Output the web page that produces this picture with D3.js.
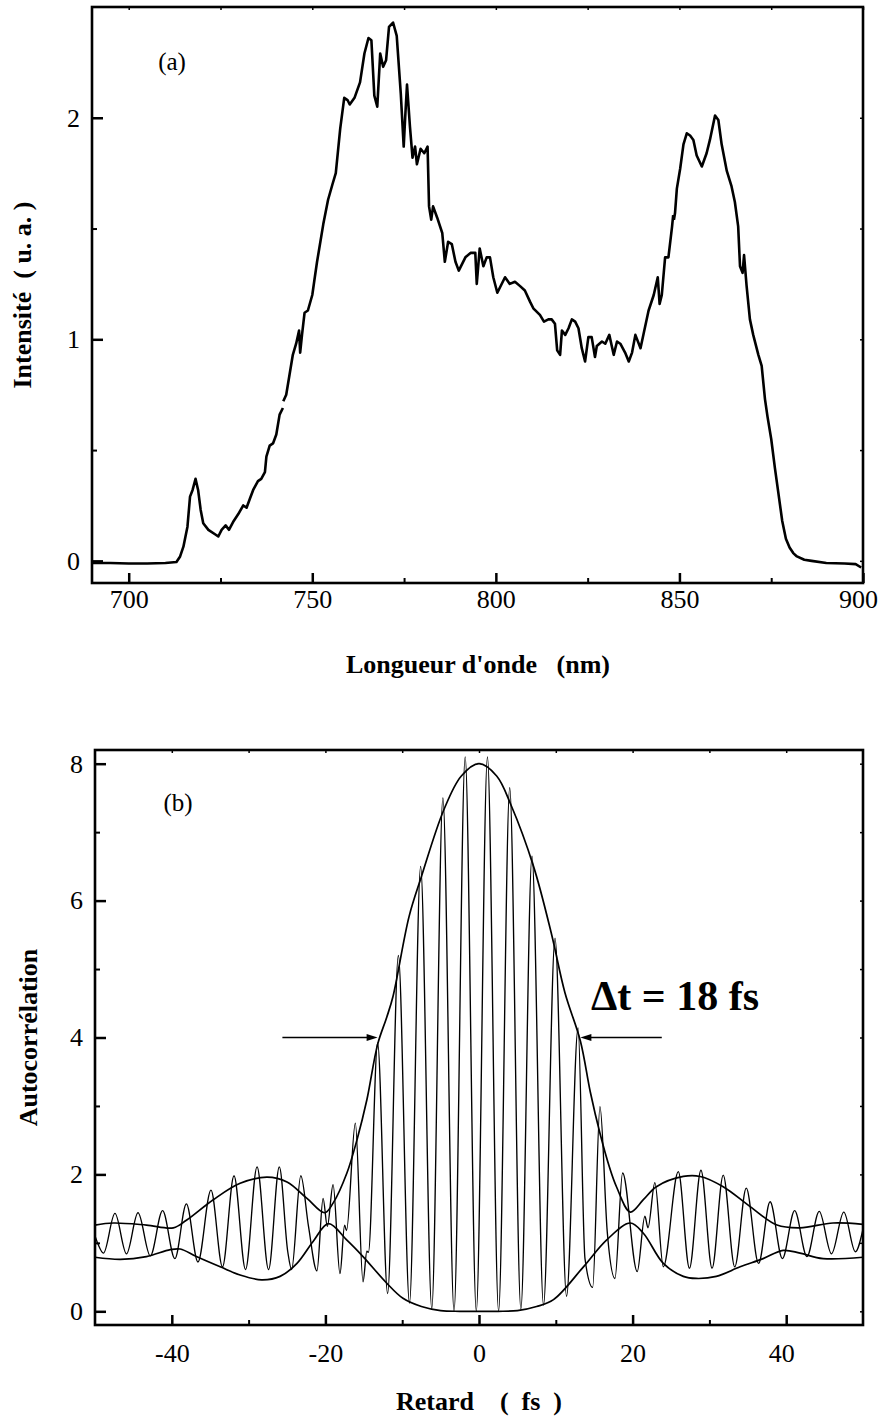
<!DOCTYPE html>
<html lang="fr">

<head>
    <meta charset="UTF-8">
    <title>Spectre et autocorrélation</title>
    <style>
        body { margin: 0; background: #fff; }
        svg { display: block; }
        text { font-family: "Liberation Serif", "Times New Roman", serif; fill: #000; }
    </style>
</head>

<body>
    <svg width="880" height="1418" id="svg"></svg>
    <script src="https://d3js.org/d3.v7.min.js"></script>
    <script>
        // (a) spectre : longueur d'onde (nm) / intensité (u. a.) ; null = trou dans le tracé
        const specWl = [690, 695, 700, 705, 710, 713, 714, 714.9, 716, 716.7, 717.4, 718.2, 718.9, 719.6, 720.3, 721.7, 723.5, 724.4, 725.3, 726.4, 727.3, 728.6, 729.8, 731.2, 732.1, 733, 733.9, 735.2, 736.1, 737.1, 737.5, 738.4, 739.3, 740.2, 741.1, 742, 742.05, 742.1, 742.9, 743.8, 744.7, 745.6, 746.4, 746.7, 747.2, 747.9, 748.8, 750, 750.6, 751.3, 752, 753, 754.3, 755.5, 756.4, 757.6, 758.7, 759.6, 760.2, 761.5, 763, 764.2, 765.3, 766.1, 766.9, 767.7, 768.5, 769.3, 770.1, 770.9, 772, 773, 774.1, 774.9, 775.3, 775.8, 776.6, 777.3, 778, 778.5, 779.5, 780.5, 781.4, 781.8, 782.4, 782.9, 784, 785.4, 786.1, 787, 788, 789, 789.9, 791.7, 793.1, 794.4, 794.8, 795.6, 796.6, 797.5, 798.4, 799.3, 800.4, 802.5, 803.8, 805.2, 806.6, 807.9, 809.3, 810.2, 812, 813.1, 814.3, 815.2, 816.1, 816.7, 817.5, 818, 818.9, 819.8, 820.7, 821.6, 822.5, 823.4, 824.3, 825.2, 826.1, 827, 827.5, 828.9, 829.8, 830.9, 832.1, 833, 833.9, 835.2, 836.2, 837.1, 838, 839.4, 840.3, 841.6, 843, 844.1, 844.6, 845.2, 846.1, 847, 848, 848.3, 848.4, 848.5, 848.8, 849.3, 850.2, 851.1, 852, 852.9, 853.8, 854.7, 856.1, 857.4, 858.3, 859.7, 860.6, 861.5, 862.9, 864.2, 865.1, 866, 866.5, 867.2, 867.6, 868.3, 869.2, 870.1, 871.5, 872.4, 873.3, 874, 875, 876, 877, 878, 879, 880, 881, 882, 884, 886, 890, 895, 898, 899.5]
        const specInt = [-0.01, -0.01, -0.012, -0.012, -0.01, -0.005, 0.02, 0.064, 0.154, 0.29, 0.32, 0.37, 0.32, 0.23, 0.17, 0.14, 0.12, 0.11, 0.14, 0.16, 0.14, 0.18, 0.21, 0.25, 0.24, 0.28, 0.32, 0.36, 0.37, 0.40, 0.47, 0.52, 0.53, 0.57, 0.66, 0.69, null, 0.72, 0.75, 0.84, 0.93, 0.98, 1.04, 0.94, 1.02, 1.12, 1.13, 1.20, 1.27, 1.35, 1.42, 1.52, 1.63, 1.70, 1.75, 1.95, 2.09, 2.08, 2.06, 2.09, 2.16, 2.29, 2.36, 2.35, 2.10, 2.05, 2.29, 2.23, 2.26, 2.41, 2.43, 2.37, 2.11, 1.87, 2.00, 2.15, 1.96, 1.82, 1.87, 1.79, 1.86, 1.84, 1.87, 1.60, 1.54, 1.60, 1.55, 1.48, 1.35, 1.44, 1.43, 1.35, 1.31, 1.37, 1.39, 1.39, 1.25, 1.41, 1.33, 1.37, 1.37, 1.28, 1.21, 1.28, 1.25, 1.26, 1.24, 1.22, 1.17, 1.14, 1.11, 1.08, 1.09, 1.09, 1.07, 0.95, 0.93, 1.04, 1.02, 1.05, 1.09, 1.08, 1.05, 0.96, 0.90, 1.01, 1.01, 0.92, 0.97, 0.99, 0.98, 1.02, 0.93, 0.99, 0.98, 0.94, 0.90, 0.94, 1.02, 0.96, 1.03, 1.13, 1.20, 1.28, 1.16, 1.20, 1.37, 1.37, 1.51, 1.56, null, 1.54, 1.57, 1.68, 1.77, 1.88, 1.93, 1.92, 1.90, 1.83, 1.78, 1.84, 1.90, 2.01, 1.99, 1.88, 1.76, 1.69, 1.62, 1.51, 1.33, 1.30, 1.38, 1.24, 1.09, 1.02, 0.93, 0.88, 0.73, 0.65, 0.55, 0.42, 0.30, 0.18, 0.10, 0.06, 0.035, 0.02, 0.005, 0, -0.01, -0.012, -0.015, -0.03]

        // (b) autocorrélation : franges (sommets et creux)
        const fringeT = [-50, -49.6, -48.9, -47.4, -45.9, -44.4, -42.8, -41.2, -39.6, -38.1, -36.6, -34.9, -33.4, -31.9, -30.4, -28.9, -27.4, -26.0, -24.9, -24.4, -23.2, -22.2, -21.1, -20.3, -19.75, -19.0, -18.1, -17.5, -17.25, -16.1, -15.1, -14.6, -14.4, -13.2, -11.9, -10.5, -9.05, -7.6, -6.15, -4.7, -3.25, -1.8, -0.35, 1.1, 2.55, 4.0, 5.45, 6.9, 8.4, 9.9, 11.4, 12.9, 13.8, 14.8, 15.75, 16.7, 17.7, 18.7, 20.6, 21.6, 22.0, 22.9, 24.0, 25.95, 27.4, 28.9, 30.35, 31.8, 33.3, 34.8, 36.4, 37.9, 39.5, 41.1, 42.7, 44.3, 45.9, 47.5, 49.0, 50]
        const fringeV = [1.10, 0.98, 0.85, 1.43, 0.84, 1.44, 0.81, 1.47, 0.77, 1.57, 0.72, 1.77, 0.65, 1.98, 0.61, 2.11, 0.61, 2.11, 0.87, 0.61, 1.98, 1.24, 0.59, 1.65, 1.24, 1.85, 0.55, 1.26, 1.18, 2.75, 0.43, 0.88, 0.86, 3.92, 0.26, 5.2, 0.12, 6.5, 0.04, 7.5, 0.0, 8.1, 0.0, 8.1, 0.0, 7.65, 0.03, 6.65, 0.09, 5.45, 0.22, 4.14, 0.77, 0.35, 2.99, 1.16, 0.48, 2.02, 0.58, 1.39, 1.22, 1.88, 0.65, 2.04, 0.63, 2.06, 0.63, 1.99, 0.65, 1.80, 0.70, 1.60, 0.77, 1.47, 0.80, 1.46, 0.84, 1.45, 0.87, 1.20]

        // enveloppes
        const envUpT = [-50, -47.6, -43.3, -39.8, -38.1, -34.6, -31.1, -27.6, -25, -22.4, -20.1, -19, -17.2, -15.9, -14.6, -13.2, -12, -11.2, -9.1, -7.5, -4.6, -2.3, 0, 2.3, 4.15, 7.1, 9.4, 11.2, 13.2, 14.5, 15.75, 17, 17.9, 19.7, 21.4, 23.1, 26.6, 28.8, 31.8, 35.3, 38.8, 41.8, 46.1, 50]
        const envUpV = [1.26, 1.29, 1.26, 1.22, 1.33, 1.63, 1.87, 1.96, 1.89, 1.65, 1.44, 1.58, 2.02, 2.5, 3.09, 3.9, 4.3, 4.6, 5.77, 6.35, 7.32, 7.82, 8.0, 7.82, 7.4, 6.5, 5.53, 4.65, 3.95, 3.2, 2.6, 2.1, 1.82, 1.45, 1.63, 1.82, 1.97, 1.97, 1.82, 1.53, 1.26, 1.22, 1.29, 1.27]
        const envLowT = [-50, -46.7, -43.3, -40.2, -38.9, -36.8, -33.7, -31.1, -28.3, -25.9, -23.7, -21.6, -19.6, -17.2, -15.1, -12, -9.9, -7.5, -5, -2.5, 0, 2.5, 5, 7.5, 9.7, 13.6, 16.6, 19.7, 21.4, 24, 26.6, 28.3, 30.9, 34, 37, 39.6, 41.8, 44.8, 50]
        const envLowV = [0.79, 0.76, 0.80, 0.90, 0.91, 0.80, 0.65, 0.53, 0.46, 0.51, 0.70, 1.02, 1.28, 1.04, 0.80, 0.41, 0.19, 0.07, 0.01, 0, 0, 0, 0.01, 0.07, 0.17, 0.65, 1.04, 1.29, 1.14, 0.70, 0.51, 0.48, 0.51, 0.65, 0.77, 0.89, 0.85, 0.77, 0.79]

        // flèches de largeur à mi-hauteur (fs), niveau 4
        const arrowFrom = [-25.6, 23.8]
        const arrowTo = [-13.2, 13.2]
        const arrowLevel = 4

        // graduations
        const xTicksA = [700, 750, 800, 850, 900]
        const xMinorA = [725, 775, 825, 875]
        const yTicksA = [0, 1, 2]
        const yMinorA = [0.5, 1.5]
        const xTicksB = [-40, -20, 0, 20, 40]
        const xMinorB = [-30, -10, 10, 30]
        const yTicksB = [0, 2, 4, 6, 8]
        const yMinorB = [1, 3, 5, 7]

        const svg = d3.select("svg#svg")

        const xA = d3.scaleLinear().domain([690, 900]).range([92, 863])
        const yA = d3.scaleLinear().domain([-0.1, 2.5]).range([583, 7])
        const xB = d3.scaleLinear().domain([-50, 50]).range([95, 863])
        const yB = d3.scaleLinear().domain([-0.2, 8.2]).range([1325, 750])

        function styleAxis(sel) {
            sel.attr("font-family", null).attr("font-size", null)
            sel.select(".domain").remove()
            sel.selectAll(".tick line").attr("stroke", "#000")
            sel.selectAll(".tick text").attr("font-size", 26).attr("fill", "#000")
        }

        function drawFrame(x, y, xMajor, xMinor, yMajor, yMinor, xPad) {
            const g = svg.append("g")
            const [x0, x1] = x.range()
            const [y0, y1] = y.range()
            const fmt = d => String(d)

            const bottom = g.append("g").attr("transform", `translate(0,${y0})`)
                .call(d3.axisBottom(x).tickValues(xMajor).tickSizeInner(-10).tickSizeOuter(0).tickPadding(xPad).tickFormat(fmt))
                .call(styleAxis)
            bottom.selectAll(".tick line").attr("stroke-width", 2.5)
            // dernier libellé rentré dans la page
            bottom.selectAll(".tick text").filter(d => d === xMajor[xMajor.length - 1]).attr("x", -5)

            g.append("g").attr("transform", `translate(0,${y0})`)
                .call(d3.axisBottom(x).tickValues(xMinor).tickSizeInner(-5).tickSizeOuter(0).tickFormat(""))
                .call(styleAxis).selectAll(".tick line").attr("stroke-width", 2)
            g.append("g").attr("transform", `translate(${x0},0)`)
                .call(d3.axisLeft(y).tickValues(yMajor).tickSizeInner(-11).tickSizeOuter(0).tickPadding(12).tickFormat(fmt))
                .call(styleAxis).selectAll(".tick line").attr("stroke-width", 2.5)
            g.append("g").attr("transform", `translate(${x0},0)`)
                .call(d3.axisLeft(y).tickValues(yMinor).tickSizeInner(-5).tickSizeOuter(0).tickFormat(""))
                .call(styleAxis).selectAll(".tick line").attr("stroke-width", 2)
            // petites graduations en haut et à droite
            g.append("g").attr("transform", `translate(0,${y1})`)
                .call(d3.axisTop(x).tickValues(xMajor.concat(xMinor)).tickSizeInner(-3).tickSizeOuter(0).tickFormat(""))
                .call(styleAxis).selectAll(".tick line").attr("stroke-width", 1.5)
            g.append("g").attr("transform", `translate(${x1},0)`)
                .call(d3.axisRight(y).tickValues(yMajor.concat(yMinor)).tickSizeInner(-3).tickSizeOuter(0).tickFormat(""))
                .call(styleAxis).selectAll(".tick line").attr("stroke-width", 1.5)

            g.append("rect")
                .attr("x", x0).attr("y", y1)
                .attr("width", x1 - x0).attr("height", y0 - y1)
                .attr("fill", "none").attr("stroke", "#000").attr("stroke-width", 2.6)
            return g
        }

        // ---------- (a) ----------
        const lineA = d3.line()
            .defined(i => specInt[i] !== null)
            .x(i => xA(specWl[i])).y(i => yA(specInt[i]))
        svg.append("path")
            .attr("d", lineA(d3.range(specWl.length)))
            .attr("fill", "none").attr("stroke", "#000").attr("stroke-width", 2.6)
            .attr("stroke-linejoin", "round")

        drawFrame(xA, yA, xTicksA, xMinorA, yTicksA, yMinorA, 7)

        svg.append("text").attr("x", 172).attr("y", 70).attr("text-anchor", "middle")
            .attr("font-size", 25).text("(a)")
        svg.append("text").attr("x", 478).attr("y", 673).attr("text-anchor", "middle")
            .attr("font-size", 26).attr("font-weight", "bold").style("white-space", "pre")
            .text("Longueur d'onde   (nm)")
        svg.append("text").attr("transform", `translate(31,${(yA.range()[0] + yA.range()[1]) / 2}) rotate(-90)`)
            .attr("text-anchor", "middle").attr("font-size", 26).attr("font-weight", "bold").style("white-space", "pre")
            .text("Intensité  ( u. a. )")

        // ---------- (b) ----------
        const upLine = d3.line().curve(d3.curveCatmullRom.alpha(0.5)).x(i => xB(envUpT[i])).y(i => yB(envUpV[i]))
        const lowLine = d3.line().curve(d3.curveCatmullRom.alpha(0.5)).x(i => xB(envLowT[i])).y(i => yB(envLowV[i]))
        const frLine = d3.line().curve(d3.curveMonotoneX).x(i => xB(fringeT[i])).y(i => yB(fringeV[i]))

        svg.append("path").attr("d", frLine(d3.range(fringeT.length)))
            .attr("fill", "none").attr("stroke", "#000").attr("stroke-width", 1.35)
        svg.append("path").attr("d", upLine(d3.range(envUpT.length)))
            .attr("fill", "none").attr("stroke", "#000").attr("stroke-width", 1.7)
        svg.append("path").attr("d", lowLine(d3.range(envLowT.length)))
            .attr("fill", "none").attr("stroke", "#000").attr("stroke-width", 1.7)

        arrowFrom.forEach((t0, k) => {
            const xa = xB(t0), xb = xB(arrowTo[k]), ya = yB(arrowLevel)
            const dir = Math.sign(xb - xa)
            svg.append("line").attr("x1", xa).attr("y1", ya).attr("x2", xb - dir * 6).attr("y2", ya)
                .attr("stroke", "#000").attr("stroke-width", 1.3)
            svg.append("path")
                .attr("d", `M${xb},${ya}L${xb - dir * 11},${ya - 3.5}L${xb - dir * 11},${ya + 3.5}Z`)
                .attr("fill", "#000")
        })

        drawFrame(xB, yB, xTicksB, xMinorB, yTicksB, yMinorB, 19)

        svg.append("text").attr("x", 178).attr("y", 811).attr("text-anchor", "middle")
            .attr("font-size", 25).text("(b)")
        svg.append("text").attr("x", 675).attr("y", 1010).attr("text-anchor", "middle")
            .attr("font-size", 42).attr("font-weight", "bold").text("Δt = 18 fs")
        svg.append("text").attr("x", 479).attr("y", 1410).attr("text-anchor", "middle")
            .attr("font-size", 26).attr("font-weight", "bold").style("white-space", "pre")
            .text("Retard    (  fs  )")
        svg.append("text").attr("transform", `translate(37,${(yB.range()[0] + yB.range()[1]) / 2}) rotate(-90)`)
            .attr("text-anchor", "middle").attr("font-size", 26).attr("font-weight", "bold")
            .text("Autocorrélation")
    </script>
</body>

</html>
